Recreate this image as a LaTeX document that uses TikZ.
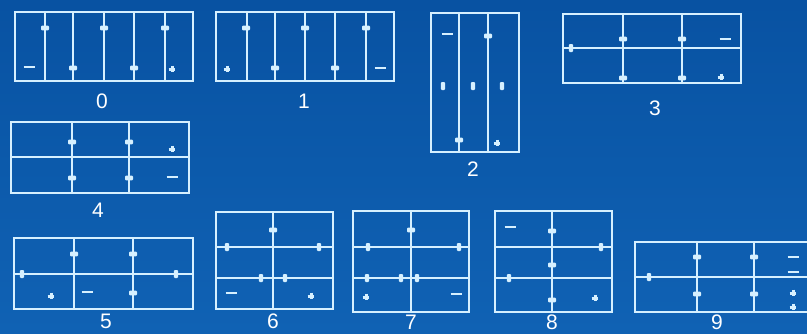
\documentclass[tikz,border=0pt]{standalone}
\usepackage{fontspec}
\setmainfont{Liberation Sans}
\definecolor{bgtop}{RGB}{8,82,162}
\definecolor{bgbot}{RGB}{16,98,180}
\definecolor{ln}{RGB}{214,240,255}
\newcommand\termh[2]{\fill[ln,rounded corners=1pt] ({#1-4},{#2-2.3}) rectangle ({#1+4},{#2+2.3});}
\newcommand\termv[2]{\fill[ln,rounded corners=1pt] ({#1-2.2},{#2-4}) rectangle ({#1+2.2},{#2+4});}
\newcommand\mkplus[2]{\draw[ln,line width=3pt] ({#1-3.4},#2) -- ({#1+3.4},#2) ({#1},{#2-3.4}) -- ({#1},{#2+3.4});}
\newcommand\mkminus[2]{\draw[ln,line width=1.8pt] ({#1-5.5},#2) -- ({#1+5.5},#2);}
\begin{document}
\begin{tikzpicture}[x=1pt,y=-1pt,
  frame/.style={draw=ln,line width=1.8pt},
  divider/.style={draw=ln,line width=1.8pt},
  numlabel/.style={text=white,font=\fontsize{21}{21}\selectfont,inner sep=0pt}]
\useasboundingbox (0,0) rectangle (807,333);
\clip (0,0) rectangle (807,333);
\shade[top color=bgtop,bottom color=bgbot] (0,0) rectangle (807,333);

% ---------- 0
\draw[frame] (15,12) rectangle (193,81);
\foreach \x in {45,73,104,134,165} \draw[divider] (\x,12) -- (\x,81);
\termh{45}{28}\termh{104}{28}\termh{165}{28}
\termh{73}{68}\termh{134}{68}
\mkminus{29}{67}\mkplus{172}{69}
\node[numlabel] (l0) at (102,101) {0};

% ---------- 1
\draw[frame] (216,12) rectangle (394,81);
\foreach \x in {247,275,305,335,366} \draw[divider] (\x,12) -- (\x,81);
\termh{246}{28}\termh{305}{28}\termh{366}{28}
\termh{275}{68}\termh{335}{68}
\mkplus{227}{69}\mkminus{380}{68}
\node[numlabel] (l1) at (304,101) {1};

% ---------- 2
\draw[frame] (431,13) rectangle (519,152);
\foreach \x in {459,488} \draw[divider] (\x,13) -- (\x,152);
\mkminus{447}{34}
\termh{488}{36}
\termv{443}{86}\termv{473}{86}\termv{502}{86}
\termh{459}{140}
\mkplus{497}{143}
\node[numlabel] (l2) at (473,169) {2};

% ---------- 3
\draw[frame] (563,14) rectangle (741,83);
\draw[divider] (563,48) -- (741,48);
\foreach \x in {623,682} \draw[divider] (\x,14) -- (\x,83);
\termv{571}{48}
\termh{623}{39}\termh{682}{39}
\termh{623}{78}\termh{682}{78}
\mkminus{725}{39}\mkplus{721}{77}
\node[numlabel] (l3) at (655,108) {3};

% ---------- 4
\draw[frame] (11,122) rectangle (189,193);
\draw[divider] (11,157) -- (189,157);
\foreach \x in {72,129} \draw[divider] (\x,122) -- (\x,193);
\termh{72}{142}\termh{129}{142}
\termh{72}{178}\termh{129}{178}
\mkplus{172}{149}\mkminus{172}{177}
\node[numlabel] (l4) at (98,210) {4};

% ---------- 5
\draw[frame] (14,238) rectangle (193,309);
\draw[divider] (14,274) -- (193,274);
\foreach \x in {74,133} \draw[divider] (\x,238) -- (\x,309);
\termv{22}{274}\termv{176}{274}
\termh{74}{254}\termh{133}{254}
\termh{133}{293}
\mkplus{51}{296}\mkminus{87}{292}
\node[numlabel] (l5) at (106,321) {5};

% ---------- 6
\draw[frame] (216,212) rectangle (333,309);
\foreach \y in {247,278} \draw[divider] (216,\y) -- (333,\y);
\draw[divider] (273,212) -- (273,309);
\termh{273}{230}
\termv{227}{247}\termv{319}{247}
\termv{261}{278}\termv{285}{278}
\mkminus{231}{293}\mkplus{311}{296}
\node[numlabel] (l6) at (273,321) {6};

% ---------- 7
\draw[frame] (353,211) rectangle (469,312);
\foreach \y in {247,278} \draw[divider] (353,\y) -- (469,\y);
\draw[divider] (411,211) -- (411,312);
\termh{411}{230}
\termv{368}{247}\termv{459}{247}
\termv{367}{278}\termv{401}{278}\termv{417}{278}
\mkplus{366}{297}\mkminus{456}{294}
\node[numlabel] (l7) at (411,322) {7};

% ---------- 8
\draw[frame] (495,211) rectangle (612,312);
\foreach \y in {247,278} \draw[divider] (495,\y) -- (612,\y);
\draw[divider] (552,211) -- (552,312);
\termh{552}{231}\termh{552}{265}\termh{552}{300}
\termv{601}{247}\termv{509}{278}
\mkminus{510}{227}\mkplus{595}{298}
\node[numlabel] (l8) at (552,322) {8};

% ---------- 9
\draw[frame] (635,242) rectangle (830,312);
\draw[divider] (635,277) -- (830,277);
\foreach \x in {697,754} \draw[divider] (\x,242) -- (\x,312);
\termv{649}{277}
\termh{697}{257}\termh{754}{257}
\termh{697}{294}\termh{754}{294}
\mkminus{793}{257}\mkminus{793}{272}
\mkplus{793}{293}\mkplus{793}{307}
\node[numlabel] (l9) at (717,322) {9};
\end{tikzpicture}
\end{document}
